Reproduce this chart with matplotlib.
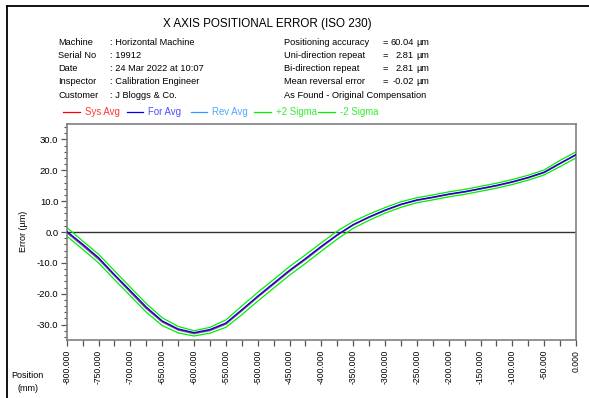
import matplotlib
matplotlib.use("Agg")
import matplotlib.pyplot as plt
from matplotlib.lines import Line2D
from matplotlib.ticker import MultipleLocator, FuncFormatter

plt.rcParams['font.family'] = ['Liberation Sans', 'DejaVu Sans']

# ---------------- data ----------------
positions = [-800, -775, -750, -725, -700, -675, -650, -625, -600, -575, -550,
             -525, -500, -475, -450, -425, -400, -375, -350, -325, -300, -275,
             -250, -225, -200, -175, -150, -125, -100, -75, -50, -25, 0]
sys_avg = [0.0, -4.2, -8.6, -14.0, -19.3, -24.6, -29.0, -31.6, -32.8, -31.8, -29.7,
           -25.4, -21.0, -16.8, -12.6, -8.8, -4.8, -1.0, 2.3, 4.8, 7.0, 8.9,
           10.3, 11.2, 12.2, 13.0, 14.0, 15.0, 16.2, 17.6, 19.3, 22.2, 25.0]
for_avg = [0.2, -3.9, -8.3, -13.8, -19.0, -24.3, -28.8, -31.4, -32.6, -31.6, -29.5,
           -25.2, -20.8, -16.6, -12.4, -8.6, -4.6, -0.9, 2.4, 4.9, 7.1, 9.0,
           10.4, 11.3, 12.3, 13.1, 14.1, 15.1, 16.3, 17.7, 19.4, 22.3, 25.1]
rev_avg = [-0.2, -4.5, -8.9, -14.2, -19.6, -24.9, -29.2, -31.8, -33.0, -32.0, -29.9,
           -25.6, -21.2, -17.0, -12.8, -9.0, -5.0, -1.1, 2.2, 4.7, 6.9, 8.8,
           10.2, 11.1, 12.1, 12.9, 13.9, 14.9, 16.1, 17.5, 19.2, 22.1, 24.9]
plus_2sigma = [1.5, -2.9, -7.2, -12.6, -17.9, -23.2, -27.8, -30.6, -32.0, -30.9, -28.5,
               -24.0, -19.6, -15.4, -11.2, -7.4, -3.5, 0.3, 3.4, 5.8, 7.9, 9.8,
               11.1, 12.0, 13.0, 13.8, 14.8, 15.8, 17.0, 18.4, 20.1, 23.2, 26.0]
minus_2sigma = [-1.3, -5.6, -10.0, -15.4, -20.7, -26.0, -30.3, -32.7, -33.7, -32.8, -30.9,
                -26.8, -22.4, -18.2, -14.0, -10.2, -6.2, -2.3, 1.2, 3.8, 6.1, 8.0,
                9.5, 10.4, 11.4, 12.2, 13.2, 14.2, 15.4, 16.8, 18.5, 21.2, 24.0]

series_names = ["Sys Avg", "For Avg", "Rev Avg", "+2 Sigma", "-2 Sigma"]
series_colors = ["#ff0000", "#0000ee", "#3399ff", "#00ee00", "#00ee00"]
text_colors = ["#ff3333", "#4d4dff", "#4da6ff", "#33ee33", "#33ee33"]

header_left = [("Machine", ": Horizontal Machine"),
               ("Serial No", ": 19912"),
               ("Date", ": 24 Mar 2022 at 10:07"),
               ("Inspector", ": Calibration Engineer"),
               ("Customer", ": J Bloggs & Co.")]
header_right = [("Positioning accuracy", "60.04"),
                ("Uni-direction repeat", "2.81"),
                ("Bi-direction repeat", "2.81"),
                ("Mean reversal error", "-0.02")]
header_note = "As Found - Original Compensation"
title = "X AXIS POSITIONAL ERROR (ISO 230)"

# ---------------- figure ----------------
W, H = 589, 398
fig = plt.figure(figsize=(W / 100, H / 100), dpi=100)
fig.patch.set_facecolor("white")


def fx(x):
    return x / W


def fy(y):
    return 1 - y / H


# outer frame lines (left and top)
fig.add_artist(Line2D([fx(7), fx(7)], [0, fy(6)], color="black", lw=1.3))
fig.add_artist(Line2D([fx(7), 1], [fy(6), fy(6)], color="black", lw=1.3))

# title
fig.text(fx(267), fy(24), title, fontsize=8.4, ha="center", va="center", color="black")

# header text
row_y = [42.7, 55.8, 68.9, 82.0, 95.1]
fs = 6.7
for (k, v), y in zip(header_left, row_y):
    fig.text(fx(58.3), fy(y), k, fontsize=fs, ha="left", va="center")
    fig.text(fx(110.5), fy(y), v, fontsize=fs, ha="left", va="center")
for (k, v), y in zip(header_right, row_y):
    fig.text(fx(284.3), fy(y), k, fontsize=fs, ha="left", va="center")
    fig.text(fx(383.0), fy(y), "=", fontsize=fs, ha="left", va="center")
    fig.text(fx(414.0), fy(y), v, fontsize=fs, ha="right", va="center")
    fig.text(fx(416.5), fy(y), "µm", fontsize=fs, ha="left", va="center")
fig.text(fx(284.3), fy(row_y[4]), header_note, fontsize=fs, ha="left", va="center")

# legend (manual, matching original layout)
leg_y = 111.7
leg_line_x = [(62.7, 80.0), (126.7, 143.3), (190.7, 207.3), (254.0, 270.7), (318.3, 335.0)]
leg_text_x = [85.0, 148.3, 212.3, 276.0, 340.0]
for name, lc, tc, (x0, x1), tx in zip(series_names, series_colors, text_colors, leg_line_x, leg_text_x):
    fig.add_artist(Line2D([fx(x0), fx(x1)], [fy(leg_y), fy(leg_y)], color=lc, lw=0.9))
    fig.text(fx(tx), fy(leg_y), name, fontsize=6.9, color=tc, ha="left", va="center")

# axes
ax_l, ax_r, ax_t, ax_b = 66.7, 576.0, 124.0, 340.0
ax = fig.add_axes([fx(ax_l), fy(ax_b), (ax_r - ax_l) / W, (ax_b - ax_t) / H])
ax.set_xlim(-800, 0)
ax.set_ylim(-35, 35)

ax.axhline(0, color="#333333", lw=1.0, zorder=1)

ax.plot(positions, plus_2sigma, color=series_colors[3], lw=0.9, zorder=2)
ax.plot(positions, minus_2sigma, color=series_colors[4], lw=0.9, zorder=2)
ax.plot(positions, rev_avg, color=series_colors[2], lw=0.9, zorder=3)
ax.plot(positions, sys_avg, color=series_colors[0], lw=0.9, zorder=3)
ax.plot(positions, for_avg, color=series_colors[1], lw=0.9, zorder=4)

for s in ax.spines.values():
    s.set_color("#808080")
    s.set_linewidth(1.2)

ax.xaxis.set_major_locator(MultipleLocator(50))
ax.xaxis.set_minor_locator(MultipleLocator(25))
ax.yaxis.set_major_locator(MultipleLocator(10))
ax.yaxis.set_minor_locator(MultipleLocator(2))
ax.yaxis.set_major_formatter(FuncFormatter(lambda v, p: f"{v:.1f}" if abs(v) > 1e-9 else "0.0"))
ax.xaxis.set_major_formatter(FuncFormatter(lambda v, p: f"{v:.3f}" if abs(v) > 1e-9 else "0.000"))

ax.tick_params(axis="y", which="major", length=4, width=0.9, color="#555555",
               labelsize=6.8, pad=2, direction="out")
ax.tick_params(axis="y", which="minor", length=2, width=0.8, color="#555555", direction="out")
ax.tick_params(axis="x", which="both", length=4, width=0.9, color="#555555",
               labelsize=6.2, pad=3, direction="out")
for lab in ax.get_xticklabels():
    lab.set_rotation(90)
    lab.set_va("top")
    lab.set_ha("center")

# axis titles
fig.text(fx(23.5), fy(231), "Error (µm)", fontsize=6.5, rotation=90, ha="center", va="center")
fig.text(fx(27.5), fy(375.7), "Position", fontsize=6.5, ha="center", va="center")
fig.text(fx(27.5), fy(388.3), "(mm)", fontsize=6.5, ha="center", va="center")

fig.savefig("out.png", dpi=100, facecolor="white")
